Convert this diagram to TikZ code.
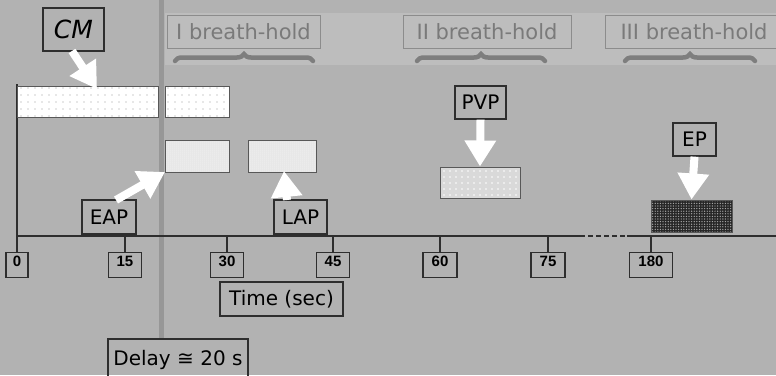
\documentclass[tikz,border=0pt]{standalone}
\usepackage{fontspec}
\setmainfont{DejaVu Sans}
\newfontfamily\tickfont{Liberation Sans}
\newfontfamily\cmfont{DejaVu Sans}
\usetikzlibrary{arrows.meta,patterns.meta,decorations.pathreplacing}
\definecolor{bg}{HTML}{B2B2B2}
\definecolor{band}{HTML}{BDBDBD}
\definecolor{delayline}{HTML}{979797}
\definecolor{bhtext}{HTML}{7A7A7A}
\definecolor{bhline}{HTML}{8C8C8C}
\definecolor{bracecol}{HTML}{7E7E7E}
\definecolor{ink}{HTML}{2E2E2E}
\tikzset{
  box/.style={draw=ink, line width=1.3pt, rectangle, inner sep=0pt, text=black},
  lbl/.style={box, font=\fontsize{20}{20}\selectfont},
  tickbox/.style={draw=ink, line width=1.2pt, rectangle, inner xsep=0pt, inner ysep=2pt,
    text height=12pt, text depth=9pt, anchor=north, font=\tickfont\bfseries\fontsize{15}{15}\selectfont},
  bhbox/.style={draw=bhline, line width=1pt, rectangle, inner sep=0pt, text=bhtext,
    minimum height=33pt, font=\fontsize{21}{21}\selectfont},
  bracestyle/.style={draw=bracecol, line width=4.5pt, line cap=round, decorate,
    decoration={brace, amplitude=7pt}},
  axis/.style={draw=ink, line width=1.4pt},
  bar/.style={rectangle, inner sep=0pt, draw=ink!80, line width=1pt},
  cmfill/.style={preaction={fill=white}, pattern={Dots[distance=7pt,radius=0.6pt]}, pattern color=gray!80},
  artfill/.style={preaction={fill=gray!20}, pattern={Dots[distance=2pt,radius=0.5pt]}, pattern color=white},
  pvpfill/.style={preaction={fill=gray!30}, pattern={Dots[distance=6pt,radius=0.8pt]}, pattern color=white},
  epfill/.style={preaction={fill=black!85}, pattern={Dots[distance=2.6pt,radius=0.7pt]}, pattern color=gray!70},
  fatarrow/.style={draw=white, line width=8pt, -{Triangle[width=30pt,length=26pt]}}
}
\begin{document}
\begin{tikzpicture}[x=1pt,y=-1pt]
\useasboundingbox (0,0) rectangle (776,375);
\fill[bg] (0,0) rectangle (776,375);
\fill[band] (165,13) rectangle (776,65);
\fill[delayline] (158.5,0) rectangle (163.5,340);

% breath-hold labels
\node[bhbox, minimum width=153pt] (bh1) at (243.5,31.5) {I breath-hold};
\node[bhbox, minimum width=168pt] (bh2) at (487,31.5) {II breath-hold};
\node[bhbox, minimum width=178pt] (bh3) at (694,31.5) {III breath-hold};
\draw[bracestyle] (175,61) -- (313,61);
\draw[bracestyle] (417,61) -- (545,61);
\draw[bracestyle] (625,61) -- (755,61);

% axes
\coordinate (vtop) at (17,84);
\coordinate (o) at (17,236);
\coordinate (d1) at (580,236);
\coordinate (d2) at (627,236);
\coordinate (aend) at (776,236);
\draw[axis] (vtop) -- (o) -- (d1);
\draw[axis, dash pattern=on 5pt off 3pt] (d1) -- (d2);
\draw[axis] (d2) -- (aend);

% ticks
\foreach \x/\w/\t/\n in {17/22/0/l0, 125/33/15/l15, 227/33/30/l30, 333/33/45/l45, 440/34/60/l60, 548/34/75/l75, 651/43/180/l180}{
  \coordinate (tk\n) at (\x,236);
  \node[tickbox, minimum width=\w pt] (\n) at (\x,252) {\t};
  \draw[axis] (tk\n) -- (\n.north);
}

\node[lbl, minimum width=123pt, minimum height=34pt] (time) at (281.5,299) {Time (sec)};
\node[lbl, minimum width=140pt, minimum height=42pt] (delay) at (178,360) {Delay ≅ 20 s};

% bars
\node[bar, cmfill, minimum width=141pt, minimum height=31pt] (cmA) at (87.5,101.5) {};
\node[bar, cmfill, minimum width=64pt, minimum height=31pt] (cmB) at (197,101.5) {};
\node[bar, artfill, minimum width=64pt, minimum height=32pt] (eapbar) at (197,156) {};
\node[bar, artfill, minimum width=68pt, minimum height=32pt] (lapbar) at (282,156) {};
\node[bar, pvpfill, minimum width=80pt, minimum height=31pt] (pvpbar) at (480,182.5) {};
\node[bar, epfill, minimum width=81pt, minimum height=32pt] (epbar) at (691.5,216) {};

% labels
\node[box, minimum width=61pt, minimum height=43pt, font=\cmfont\itshape\fontsize{25}{25}\selectfont] (cm) at (73.5,29.5) {CM};
\node[lbl, minimum width=54pt, minimum height=34pt] (eap) at (109,217) {EAP};
\node[lbl, minimum width=53pt, minimum height=34pt] (lap) at (300.5,217) {LAP};
\node[lbl, minimum width=51pt, minimum height=33pt] (pvp) at (480.5,102.5) {PVP};
\node[lbl, minimum width=43pt, minimum height=33pt] (ep) at (694.5,139.5) {EP};

% arrows
\coordinate (cmtail) at (72,51);
\coordinate (cmtip) at (97,89);
\coordinate (eaptail) at (116,200);
\coordinate (eaptip) at (165,172);
\coordinate (laptail) at (287,200);
\coordinate (laptip) at (284,171);
\draw[fatarrow] (cmtail) -- (cmtip);
\draw[fatarrow] (eaptail) -- (eaptip);
\draw[fatarrow] (laptail) -- (laptip);
\draw[fatarrow] (pvp.south) -- (pvpbar.north);
\draw[fatarrow] (ep.south) -- (epbar.north);
\end{tikzpicture}
\end{document}
